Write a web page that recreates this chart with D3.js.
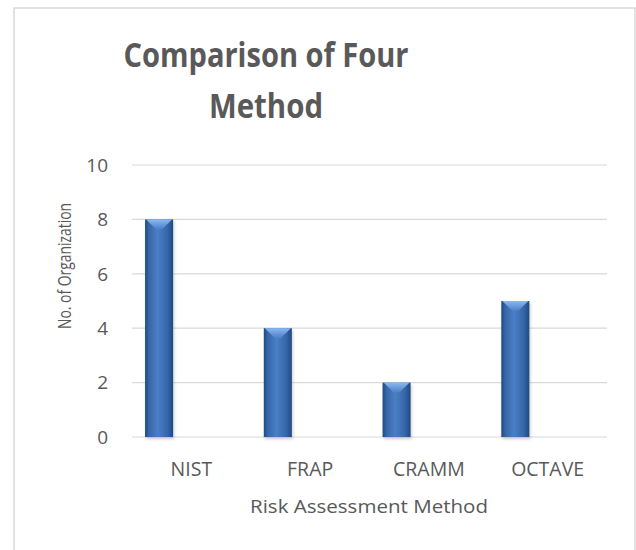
<!DOCTYPE html>
<html>
<head>
<meta charset="utf-8">
<script src="https://cdnjs.cloudflare.com/ajax/libs/d3/7.8.5/d3.min.js"></script>
<style>
  body { margin: 0; background: #fff; font-family: "Open Sans", Arial, sans-serif; }
</style>
</head>
<body>
<svg id="chart" width="636" height="550"></svg>
<script>
// chart data
var methods = ["NIST", "FRAP", "CRAMM", "OCTAVE"];
var orgCounts = [8, 4, 2, 5];
var yTicks = [0, 2, 4, 6, 8, 10];
var titleLines = ["Comparison of Four", "Method"];

var svg = d3.select("#chart");
var textCol = "#595959";

// outer chart frame (bottom runs off the picture)
svg.append("rect")
    .attr("x", 14).attr("y", 8)
    .attr("width", 621).attr("height", 560)
    .attr("fill", "#fff")
    .attr("stroke", "#d9d9d9")
    .attr("stroke-width", 1.5);

var defs = svg.append("defs");

var side = defs.append("linearGradient").attr("id", "barSide")
    .attr("x1", "0%").attr("x2", "100%").attr("y1", "0%").attr("y2", "0%");
side.append("stop").attr("offset", "0%").attr("stop-color", "#1f4a80");
side.append("stop").attr("offset", "14%").attr("stop-color", "#3566a8");
side.append("stop").attr("offset", "45%").attr("stop-color", "#4a7fc6");
side.append("stop").attr("offset", "80%").attr("stop-color", "#3566a8");
side.append("stop").attr("offset", "100%").attr("stop-color", "#1f4a80");

var cap = defs.append("linearGradient").attr("id", "barCap")
    .attr("x1", "0%").attr("x2", "0%").attr("y1", "0%").attr("y2", "100%");
cap.append("stop").attr("offset", "0%").attr("stop-color", "#8ab8f0");
cap.append("stop").attr("offset", "100%").attr("stop-color", "#4a80c8");

var blur = defs.append("filter").attr("id", "shadow")
    .attr("x", "-30%").attr("y", "-10%").attr("width", "160%").attr("height", "130%");
blur.append("feGaussianBlur").attr("stdDeviation", 1.5);

var x = d3.scaleBand()
    .domain(methods)
    .range([132, 607]);

var y = d3.scaleLinear()
    .domain([0, 10])
    .range([437, 165]);

// gridlines
svg.append("g")
    .selectAll("line")
    .data(yTicks)
    .enter()
    .append("line")
    .attr("x1", 132).attr("x2", 607)
    .attr("y1", function(d) { return y(d); })
    .attr("y2", function(d) { return y(d); })
    .attr("stroke", "#d9d9d9")
    .attr("stroke-width", 1.2);

// tick labels
svg.append("g")
    .selectAll("text")
    .data(yTicks)
    .enter()
    .append("text")
    .attr("x", 108)
    .attr("y", function(d) { return y(d); })
    .attr("dy", "0.36em")
    .attr("text-anchor", "end")
    .attr("font-size", 19)
    .attr("fill", textCol)
    .text(function(d) { return d; });

var barX = function(d, i) { return x(methods[i]) + x.bandwidth() * 0.11; };
var barW = x.bandwidth() * 0.236;

var bars = svg.append("g")
    .selectAll("g")
    .data(orgCounts)
    .enter()
    .append("g");

// soft shadow
bars.append("rect")
    .attr("x", function(d, i) { return barX(d, i) + 1; })
    .attr("y", function(d) { return y(d) + 2; })
    .attr("width", barW)
    .attr("height", function(d) { return y(0) - y(d); })
    .attr("fill", "#888")
    .attr("opacity", 0.45)
    .attr("filter", "url(#shadow)");

bars.append("rect")
    .attr("x", barX)
    .attr("y", function(d) { return y(d); })
    .attr("width", barW)
    .attr("height", function(d) { return y(0) - y(d); })
    .attr("fill", "url(#barSide)");

// bevelled top
bars.append("path")
    .attr("d", function(d, i) {
        var x0 = barX(d, i), y0 = y(d);
        return "M" + (x0 + 1) + "," + y0 +
            "L" + (x0 + barW - 1) + "," + y0 +
            "L" + (x0 + barW * 0.6) + "," + (y0 + 10) +
            "L" + (x0 + barW * 0.4) + "," + (y0 + 10) + "Z";
    })
    .attr("fill", "url(#barCap)");

// category labels
svg.append("g")
    .selectAll("text")
    .data(methods)
    .enter()
    .append("text")
    .attr("x", function(d) { return x(d) + x.bandwidth() / 2; })
    .attr("y", 476)
    .attr("text-anchor", "middle")
    .attr("font-size", 19.5)
    .attr("fill", textCol)
    .text(function(d) { return d; });

// axis titles
svg.append("text")
    .attr("x", 369).attr("y", 513)
    .attr("text-anchor", "middle")
    .attr("font-size", 19)
    .attr("textLength", 238)
    .attr("lengthAdjust", "spacingAndGlyphs")
    .attr("fill", textCol)
    .text("Risk Assessment Method");

svg.append("text")
    .attr("transform", "translate(71,266) rotate(-90)")
    .attr("text-anchor", "middle")
    .attr("font-size", 18)
    .attr("textLength", 126)
    .attr("lengthAdjust", "spacingAndGlyphs")
    .attr("fill", textCol)
    .text("No. of Organization");

// chart title
var titleWidths = [285, 114];
svg.append("g")
    .selectAll("text")
    .data(titleLines)
    .enter()
    .append("text")
    .attr("x", 266)
    .attr("y", function(d, i) { return 67 + i * 51; })
    .attr("text-anchor", "middle")
    .attr("font-size", 34)
    .attr("font-weight", "bold")
    .attr("textLength", function(d, i) { return titleWidths[i]; })
    .attr("lengthAdjust", "spacingAndGlyphs")
    .attr("fill", textCol)
    .text(function(d) { return d; });
</script>
</body>
</html>
